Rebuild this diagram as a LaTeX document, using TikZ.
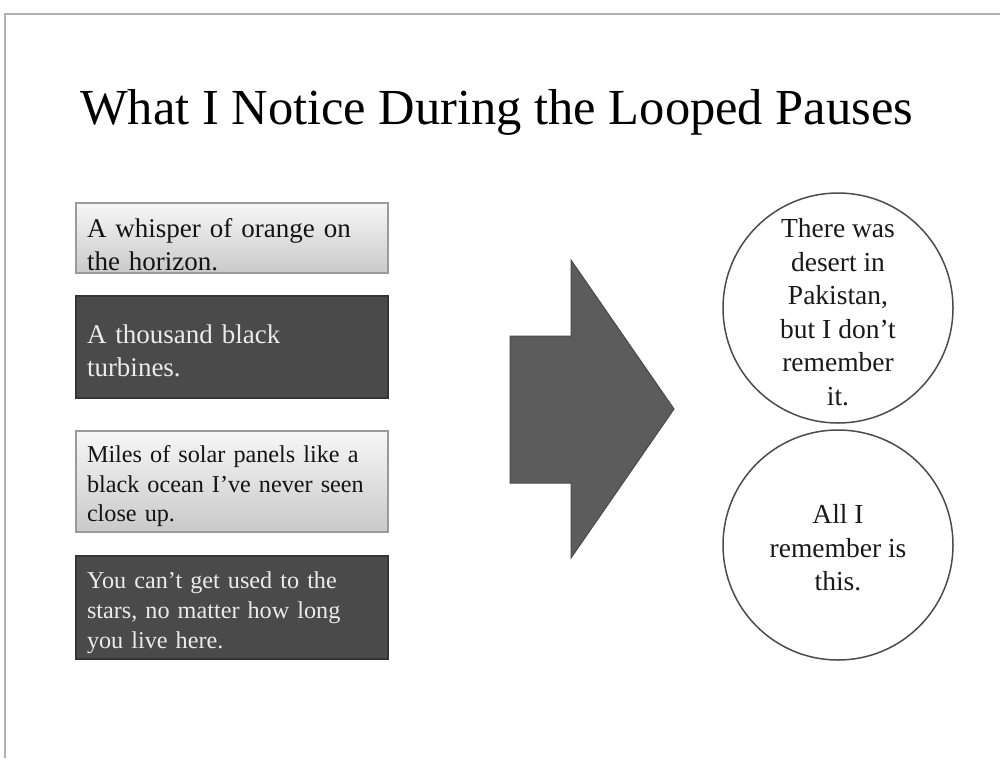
\documentclass[tikz,border=0pt]{standalone}
\usepackage{fontspec}
\setmainfont{Liberation Serif}
\usetikzlibrary{shapes.geometric}
\definecolor{darkbox}{HTML}{4A4A4A}
\definecolor{darkedge}{HTML}{353535}
\definecolor{lighttop}{HTML}{F7F7F7}
\definecolor{lightbot}{HTML}{C9C9C9}
\definecolor{lightedge}{HTML}{9A9A9A}
\definecolor{arrowfill}{HTML}{5C5C5C}
\definecolor{arrowedge}{HTML}{4A4A4A}
\definecolor{framecol}{HTML}{B0B0B0}
\tikzset{
  lightbox/.style={draw=lightedge, line width=1.2pt, top color=lighttop, bottom color=lightbot,
    minimum width=312pt, inner sep=0pt},
  darkbox/.style={draw=darkedge, line width=1.2pt, fill=darkbox,
    minimum width=312pt, inner sep=0pt},
  darktext/.style={text width=290pt, align=left, inner sep=0pt, text=black!92},
  lighttext/.style={text width=290pt, align=left, inner sep=0pt, text=white!92!black},
  bubble/.style={circle, draw=black!70, line width=1.5pt, fill=white, minimum size=230pt,
    inner sep=0pt},
  bubbletext/.style={align=center, inner sep=0pt, text=black!90,
    font=\fontsize{27.5}{33.5}\selectfont},
}
\begin{document}
\begin{tikzpicture}[x=1pt,y=-1pt]
\useasboundingbox (0,0) rectangle (1000,758);
\fill[white] (0,0) rectangle (1000,758);
% slide frame
\draw[framecol, line width=2pt] (5,758) -- (5,14) -- (1000,14);
% title
\node[anchor=base west, inner sep=0pt, font=\fontsize{50.5}{60}\selectfont] (title) at (80,124)
  {What I Notice During the Looped Pauses};
% left boxes
\node[lightbox, minimum height=70pt] (b1) at (232,238) {};
\node[darktext, font=\fontsize{27}{33}\selectfont] (b1t) at (232,245)
  {A whisper of orange on\\the horizon.};
\node[darkbox, minimum height=102pt] (b2) at (232,347) {};
\node[lighttext, font=\fontsize{27}{33}\selectfont] (b2t) at (232,351)
  {A thousand black\\turbines.};
\node[lightbox, minimum height=101pt] (b3) at (232,481.5) {};
\node[darktext, font=\fontsize{24.2}{29.5}\selectfont] (b3t) at (232,486.5)
  {Miles of solar panels like a\\black ocean I've never seen\\close up.};
\node[darkbox, minimum height=103pt] (b4) at (232,607.5) {};
\node[lighttext, font=\fontsize{24.2}{30}\selectfont] (b4t) at (232,612.5)
  {You can't get used to the\\stars, no matter how long\\you live here.};
% big arrow
\coordinate (a1) at (510,336);
\coordinate (a2) at (571,336);
\coordinate (a3) at (571,260);
\coordinate (tip) at (674,409);
\coordinate (a5) at (571,558);
\coordinate (a6) at (571,483);
\coordinate (a7) at (510,483);
\filldraw[fill=arrowfill, draw=arrowedge, line width=1pt, line join=miter]
  (a1) -- (a2) -- (a3) -- (tip) -- (a5) -- (a6) -- (a7) -- cycle;
% circles
\node[bubble] (c1) at (838,308) {};
\node[bubbletext] (c1t) at (838,312)
  {There was\\desert in\\Pakistan,\\but I don't\\remember\\it.};
\node[bubble] (c2) at (838,545) {};
\node[bubbletext] (c2t) at (838,548)
  {All I\\remember is\\this.};
\end{tikzpicture}
\end{document}
